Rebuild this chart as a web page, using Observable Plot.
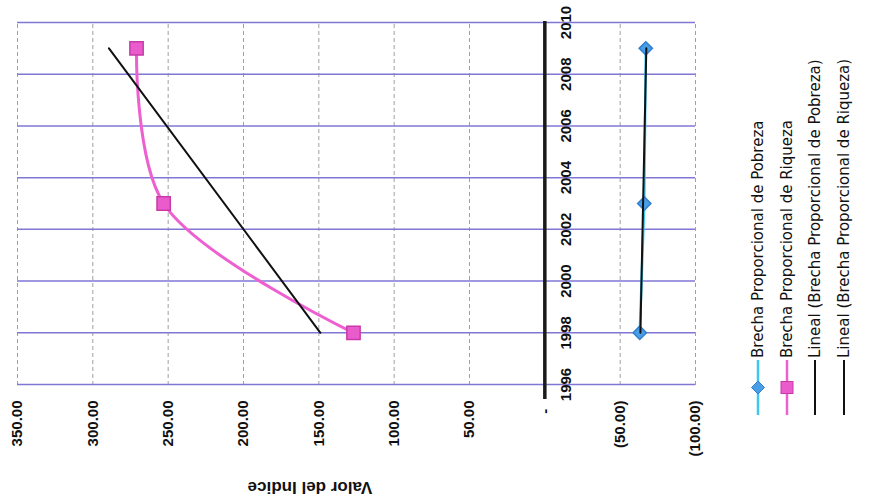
<!DOCTYPE html>
<html><head><meta charset="utf-8">
<script src="https://cdn.jsdelivr.net/npm/d3@7"></script>
<script src="https://cdn.jsdelivr.net/npm/@observablehq/plot@0.6"></script>
<style>
html,body{margin:0;padding:0;background:#fff;overflow:hidden;width:869px;height:503px}
#wrap{position:absolute;left:0;top:0;width:503px;height:869px;transform-origin:0 0;transform:translate(0,503px) rotate(-90deg);background:#fff}
#title{position:absolute;left:16px;top:310px;transform:translate(-50%,-50%) rotate(-90deg);font:bold 17px "Liberation Sans",Arial,sans-serif;white-space:nowrap;color:#111}
#legend{position:absolute;left:88px;top:744px;font:15px "DejaVu Sans",sans-serif;color:#111}
.row{display:flex;align-items:center;height:28.5px;white-space:nowrap}
.row svg{margin-right:2px;flex:none}
</style></head><body>
<div id="wrap"><div id="chart"></div><div id="title">Valor del Indice</div><div id="legend"></div></div>
<script>
const years = [1998, 2003, 2009];
const pobreza = [-63, -66, -67];
const riqueza = [127, 253, 271];
const yearTicks = [1996, 1998, 2000, 2002, 2004, 2006, 2008, 2010];
const valueTicks = [-100, -50, 0, 50, 100, 150, 200, 250, 300, 350];
const seriesNames = [
  "Brecha Proporcional de Pobreza",
  "Brecha Proporcional de Riqueza",
  "Lineal (Brecha Proporcional de Pobreza)",
  "Lineal (Brecha Proporcional de Riqueza)"
];
const axisTitle = "Valor del Indice";

const rows = years.map((y, i) => ({year: y, pobreza: pobreza[i], riqueza: riqueza[i]}));
const f2 = d3.format(".2f");
const fmt = d => d === 0 ? "-\u2007" : d < 0 ? `(${f2(-d)})` : f2(d);

const plot = Plot.plot({
  width: 503, height: 735,
  marginLeft: 118, marginRight: 23, marginTop: 17, marginBottom: 40,
  style: {fontFamily: "'Liberation Sans', Arial, sans-serif", fontSize: "15px", fontWeight: "bold", color: "#111", background: "transparent"},
  x: {domain: [1996, 2010], axis: null},
  y: {domain: [-100, 350]},
  marks: [
    Plot.ruleY(valueTicks, {stroke: "#a0a0a0", strokeDasharray: "4,3", strokeWidth: 1}),
    Plot.ruleX(yearTicks, {stroke: "#8077d4", strokeWidth: 1.5}),
    Plot.ruleY([0], {stroke: "#1a1a1a", strokeWidth: 3.5, insetLeft: -14, insetRight: -2}),
    Plot.axisY({ticks: valueTicks, tickFormat: fmt, tickSize: 0, tickPadding: 16, label: null, fontSize: 15}),
    Plot.text(yearTicks, {x: d => d, y: () => 0, dy: 21, text: d => String(d), fontSize: 15}),
    Plot.line(rows, {x: "year", y: "pobreza", stroke: "#3cc8f0", strokeWidth: 2.5}),
    Plot.line(rows, {x: "year", y: "riqueza", stroke: "#ee5fd0", strokeWidth: 3, curve: "catmull-rom"}),
    Plot.dot(rows, {x: "year", y: "pobreza", symbol: "diamond2", r: 6, fill: "#4a9ee6", stroke: "#2f7fd0"}),
    Plot.dot(rows, {x: "year", y: "riqueza", symbol: "square", r: 7.5, fill: "#ea5ccc", stroke: "#c83aa8"}),
    Plot.linearRegressionY(rows, {x: "year", y: "pobreza", ci: 0, stroke: "#111", strokeWidth: 2}),
    Plot.linearRegressionY(rows, {x: "year", y: "riqueza", ci: 0, stroke: "#111", strokeWidth: 2})
  ]
});
document.getElementById("chart").appendChild(plot);
document.getElementById("title").textContent = axisTitle;

const swatches = [
  {line: "#3cc8f0", marker: "diamond", fill: "#4a9ee6", stroke: "#2f7fd0"},
  {line: "#ee5fd0", marker: "square", fill: "#ea5ccc", stroke: "#c83aa8"},
  {line: "#111", marker: null},
  {line: "#111", marker: null}
];
const legend = d3.select("#legend");
seriesNames.forEach((name, i) => {
  const s = swatches[i];
  const row = legend.append("div").attr("class", "row");
  const svg = row.append("svg").attr("width", 55).attr("height", 16);
  svg.append("line").attr("x1", 0).attr("x2", 55).attr("y1", 8).attr("y2", 8)
    .attr("stroke", s.line).attr("stroke-width", s.marker ? 2.5 : 2);
  if (s.marker === "diamond") {
    svg.append("path").attr("d", "M27.5,1.5L34,8L27.5,14.5L21,8Z").attr("fill", s.fill).attr("stroke", s.stroke);
  } else if (s.marker === "square") {
    svg.append("rect").attr("x", 21.5).attr("y", 2).attr("width", 12).attr("height", 12).attr("fill", s.fill).attr("stroke", s.stroke);
  }
  row.append("span").text(name);
});
</script>
</body></html>
